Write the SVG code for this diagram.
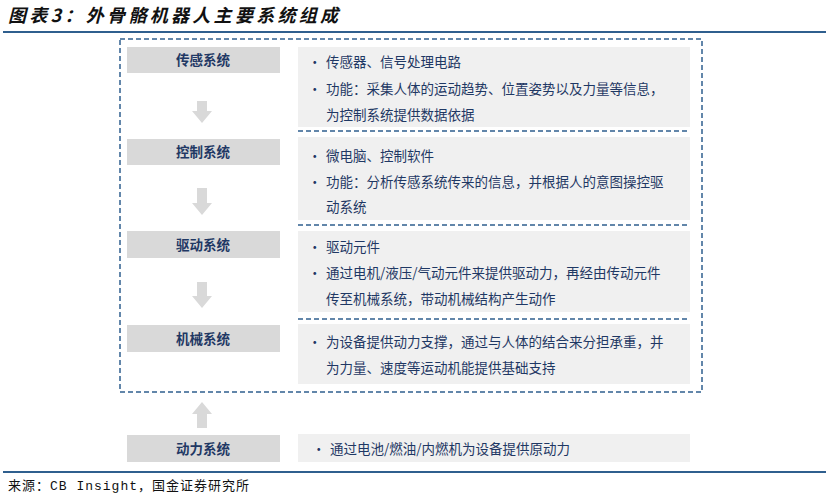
<svg xmlns="http://www.w3.org/2000/svg" width="831" height="498" viewBox="0 0 831 498">
<style>
.title{font-family:"Noto Sans CJK SC","Noto Sans",sans-serif;font-size:18px;font-weight:bold;font-style:italic;fill:#111;letter-spacing:3.3px}
.src{font-family:"Liberation Mono","Noto Sans CJK SC",monospace;font-size:13px;fill:#111;letter-spacing:1px}
.lbl{fill:#D9D9D9}
.lt{font-family:"Noto Sans CJK SC","Noto Sans",sans-serif;font-size:13.5px;font-weight:bold;fill:#1F3864;text-anchor:middle}
.pan{fill:#F0F0F0}
.pt{font-family:"Noto Sans CJK SC","Noto Sans",sans-serif;font-size:13.5px;fill:#1F3864}
.dash{stroke:#2F5F8E;stroke-width:1.5;stroke-dasharray:5,3;fill:none}
.rule{stroke:#2F5F8E;stroke-width:2}
.arr{fill:#D9D9D9}
</style>
<text class="title" x="8" y="22">图表3：外骨骼机器人主要系统组成</text>
<line class="rule" x1="3" y1="32" x2="826" y2="32"/>
<line class="rule" x1="3" y1="472" x2="826" y2="472"/>
<text class="src" x="8" y="490">来源：CB Insight，国金证券研究所</text>

<rect class="dash" x="120" y="39" width="582" height="353"/>

<g id="connectors">
<polygon class="arr" points="197,101 207,101 207,111 212,111 202,123 192,111 197,111"/>
<polygon class="arr" points="197,188 207,188 207,203 212,203 202,215 192,203 197,203"/>
<polygon class="arr" points="197,282 207,282 207,296 212,296 202,308 192,296 197,296"/>
<polygon class="arr" points="197,428 207,428 207,414 212,414 202,402 192,414 197,414"/>
</g>

<g id="n1">
<rect class="lbl" x="127" y="47" width="153" height="26"/>
<text class="lt" x="203" y="65">传感系统</text>
<rect class="pan" x="298" y="47" width="392" height="80"/>
<text class="pt" x="308" y="67">•</text><text class="pt" x="326" y="67">传感器、信号处理电路</text>
<text class="pt" x="308" y="94">•</text><text class="pt" x="326" y="94">功能：采集人体的运动趋势、位置姿势以及力量等信息，</text>
<text class="pt" x="326" y="120">为控制系统提供数据依据</text>
</g>
<line class="dash" x1="298" y1="131" x2="688" y2="131"/>

<g id="n2">
<rect class="lbl" x="127" y="139" width="153" height="26"/>
<text class="lt" x="203" y="157">控制系统</text>
<rect class="pan" x="298" y="137" width="392" height="83"/>
<text class="pt" x="308" y="161">•</text><text class="pt" x="326" y="161">微电脑、控制软件</text>
<text class="pt" x="308" y="187">•</text><text class="pt" x="326" y="187">功能：分析传感系统传来的信息，并根据人的意图操控驱</text>
<text class="pt" x="326" y="212">动系统</text>
</g>
<line class="dash" x1="298" y1="225" x2="688" y2="225"/>

<g id="n3">
<rect class="lbl" x="127" y="231" width="153" height="27"/>
<text class="lt" x="203" y="250">驱动系统</text>
<rect class="pan" x="298" y="231" width="392" height="81"/>
<text class="pt" x="308" y="252">•</text><text class="pt" x="326" y="252">驱动元件</text>
<text class="pt" x="308" y="278">•</text><text class="pt" x="326" y="278">通过电机/液压/气动元件来提供驱动力，再经由传动元件</text>
<text class="pt" x="326" y="304">传至机械系统，带动机械结构产生动作</text>
</g>
<line class="dash" x1="298" y1="319" x2="688" y2="319"/>

<g id="n4">
<rect class="lbl" x="127" y="325" width="153" height="27"/>
<text class="lt" x="203" y="344">机械系统</text>
<rect class="pan" x="298" y="324" width="392" height="60"/>
<text class="pt" x="308" y="347">•</text><text class="pt" x="326" y="347">为设备提供动力支撑，通过与人体的结合来分担承重，并</text>
<text class="pt" x="326" y="373">为力量、速度等运动机能提供基础支持</text>
</g>

<g id="n5">
<rect class="lbl" x="127" y="435" width="153" height="27"/>
<text class="lt" x="203" y="454">动力系统</text>
<rect class="pan" x="298" y="434" width="392" height="28"/>
<text class="pt" x="312" y="454">•</text><text class="pt" x="330" y="454">通过电池/燃油/内燃机为设备提供原动力</text>
</g>
</svg>
